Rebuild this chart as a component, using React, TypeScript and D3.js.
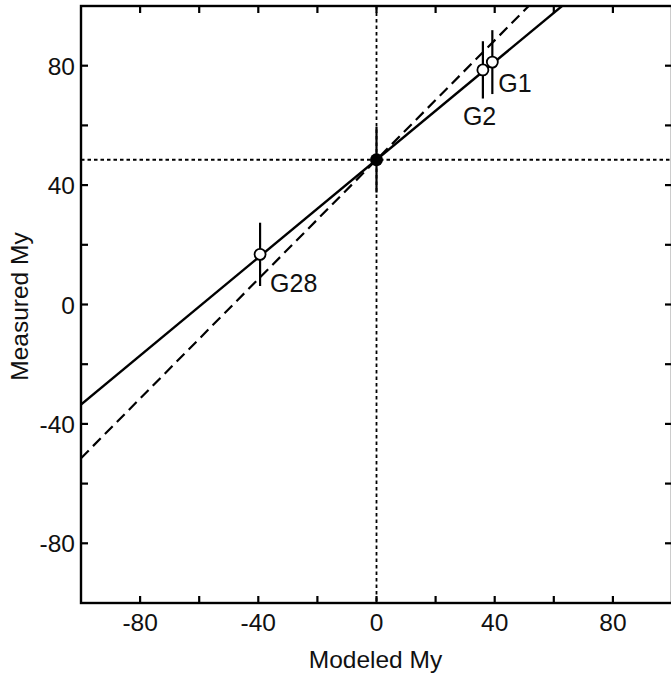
import React from "react";
import * as d3 from "d3";

// Data
const pointNames = ["G1", "G2", "G28"];
const modeledMy = [39.2, 36.0, -39.4];
const measuredMy = [81.2, 78.6, 16.8];
const measuredErr = [10.7, 9.6, 10.6];

const centerModeled = 0;
const centerMeasured = 48.5;
const centerErr = 11;

const fitIntercept = 48.5;
const fitSlope = 0.82; // solid regression line
const unitSlope = 1.0; // dashed line

const tickValues = [-100, -80, -60, -40, -20, 0, 20, 40, 60, 80, 100];
const labeledTicks = [-80, -40, 0, 40, 80];

// label offsets (pixels)
const labelOffsets: [number, number][] = [
  [6, 30],
  [-20, 55],
  [10, 38],
];

const W = 671;
const H = 680;
const L = 81;
const R = 672;
const T = 6;
const B = 603;

export default function App() {
  const x = d3.scaleLinear().domain([-100, 100]).range([L, R]);
  const y = d3.scaleLinear().domain([-100, 100]).range([B, T]);
  const font = "Helvetica, Arial, 'Liberation Sans', sans-serif";
  const tickLen = 7;

  const line = d3
    .line<number>()
    .x((d) => x(d))
    .y((d) => y(fitIntercept + fitSlope * d));
  const dashLine = d3
    .line<number>()
    .x((d) => x(d))
    .y((d) => y(fitIntercept + unitSlope * d));
  const xs = [-100, 100];

  return (
    <svg
      width={W}
      height={H}
      style={{ position: "absolute", left: 0, top: 0, background: "#fff" }}
    >
      <defs>
        <clipPath id="plotclip">
          <rect x={L} y={T} width={R - L} height={B - T} />
        </clipPath>
      </defs>
      <rect x={0} y={0} width={W} height={H} fill="#fff" />
      <g clipPath="url(#plotclip)">
        <line
          x1={x(centerModeled)}
          x2={x(centerModeled)}
          y1={T}
          y2={B}
          stroke="#000"
          strokeWidth={1.8}
          strokeDasharray="3.5,3"
        />
        <line
          x1={L}
          x2={R}
          y1={y(centerMeasured)}
          y2={y(centerMeasured)}
          stroke="#000"
          strokeWidth={1.8}
          strokeDasharray="3.5,3"
        />
        <path
          d={dashLine(xs) || ""}
          fill="none"
          stroke="#000"
          strokeWidth={2.2}
          strokeDasharray="11,6"
        />
        <path d={line(xs) || ""} fill="none" stroke="#000" strokeWidth={2.4} />
        <line
          x1={x(centerModeled)}
          x2={x(centerModeled)}
          y1={y(centerMeasured + centerErr)}
          y2={y(centerMeasured - centerErr)}
          stroke="#000"
          strokeWidth={2.2}
        />
        <circle cx={x(centerModeled)} cy={y(centerMeasured)} r={6.5} fill="#000" />
        {pointNames.map((n, i) => (
          <g key={n}>
            <line
              x1={x(modeledMy[i])}
              x2={x(modeledMy[i])}
              y1={y(measuredMy[i] + measuredErr[i])}
              y2={y(measuredMy[i] - measuredErr[i])}
              stroke="#000"
              strokeWidth={2.2}
            />
            <circle
              cx={x(modeledMy[i])}
              cy={y(measuredMy[i])}
              r={5.5}
              fill="#fff"
              stroke="#000"
              strokeWidth={1.8}
            />
          </g>
        ))}
      </g>
      {pointNames.map((n, i) => (
        <text
          key={n + "lbl"}
          x={x(modeledMy[i]) + labelOffsets[i][0]}
          y={y(measuredMy[i]) + labelOffsets[i][1]}
          fontFamily={font}
          fontSize={25}
          fill="#111"
        >
          {n}
        </text>
      ))}
      <rect
        x={L}
        y={T}
        width={R - L}
        height={B - T}
        fill="none"
        stroke="#000"
        strokeWidth={2.4}
      />
      {tickValues
        .filter((v) => v > -100 && v < 100)
        .map((v) => (
          <g key={"t" + v} stroke="#000" strokeWidth={2.2}>
            <line x1={x(v)} x2={x(v)} y1={B} y2={B - tickLen} />
            <line x1={x(v)} x2={x(v)} y1={T} y2={T + tickLen} />
            <line x1={L} x2={L + tickLen} y1={y(v)} y2={y(v)} />
            <line x1={R} x2={R - tickLen} y1={y(v)} y2={y(v)} />
          </g>
        ))}
      {labeledTicks.map((v) => (
        <text
          key={"xl" + v}
          x={x(v)}
          y={631}
          textAnchor="middle"
          fontFamily={font}
          fontSize={24.5}
          fill="#111"
        >
          {v}
        </text>
      ))}
      {labeledTicks.map((v) => (
        <text
          key={"yl" + v}
          x={L - 6}
          y={y(v) + 9}
          textAnchor="end"
          fontFamily={font}
          fontSize={24.5}
          fill="#111"
        >
          {v}
        </text>
      ))}
      <text
        x={(L + R) / 2 - 1}
        y={668}
        textAnchor="middle"
        fontFamily={font}
        fontSize={24.5}
        fill="#111"
      >
        Modeled My
      </text>
      <text
        transform={`translate(28, ${(T + B) / 2 + 2}) rotate(-90)`}
        textAnchor="middle"
        fontFamily={font}
        fontSize={24.5}
        fill="#111"
      >
        Measured My
      </text>
    </svg>
  );
}
